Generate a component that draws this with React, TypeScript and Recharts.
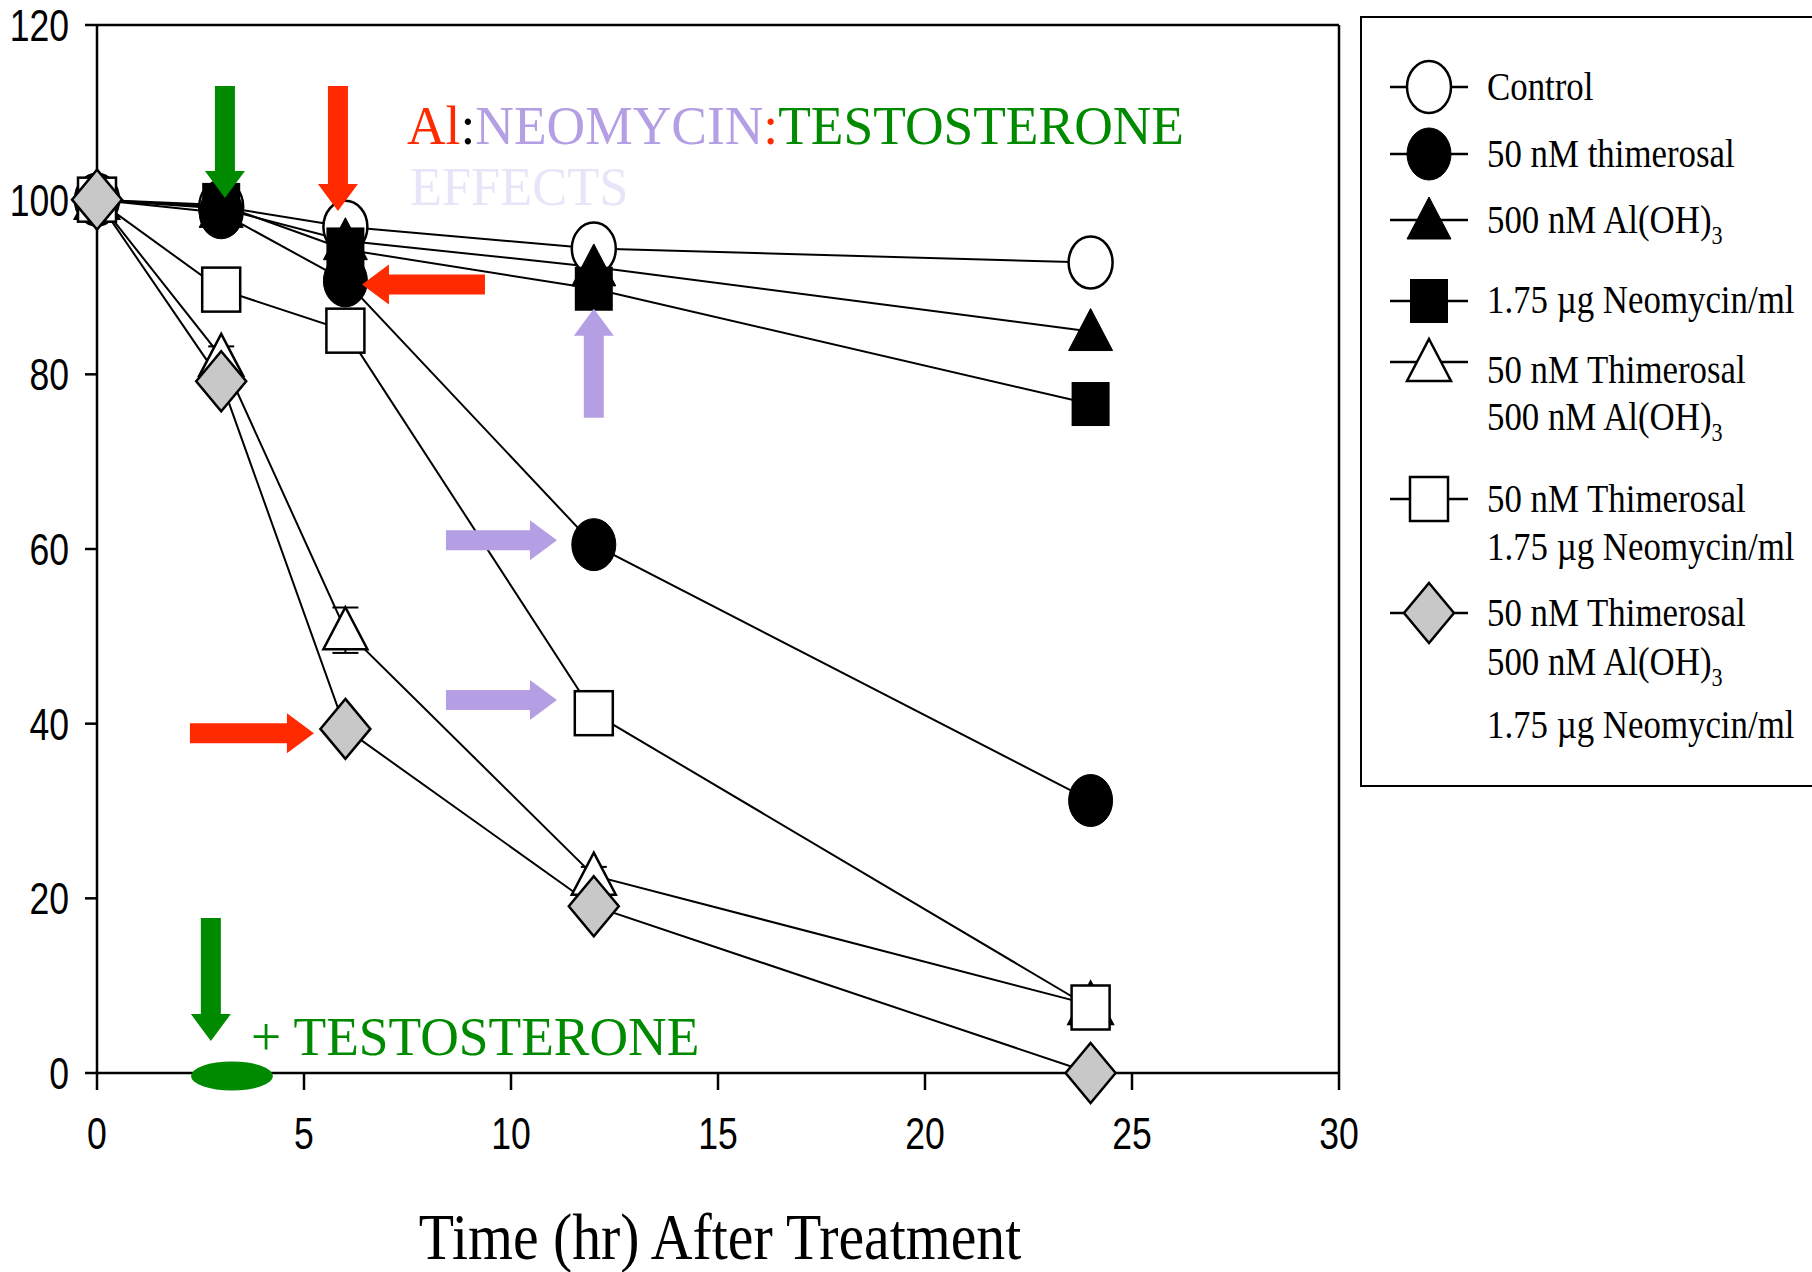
import React from "react";
import {
  ComposedChart,
  Customized,
  ErrorBar,
  Line,
  ReferenceDot,
  ReferenceLine,
  Scatter,
  XAxis,
  YAxis,
} from "recharts";

const SERIF = "'Liberation Serif', 'Times New Roman', serif";
const SANS = "'Liberation Sans', Arial, sans-serif";
const RED = "#ff2a00";
const LAVENDER = "#b49ee4";
const GREEN = "#008a00";

// hours after treatment, % viability
const hours = [0, 3, 6, 12, 24];
const control = [100, 99.2, 96.9, 94.4, 92.8];
const thimerosal = [100, 98.5, 90.7, 60.5, 31.2];
const aluminum = [100, 99.0, 95.3, 92.3, 84.9];
const neomycin = [100, 99.4, 94.3, 89.8, 76.6];
const thimAl = [100, 82.0, 50.7, 22.6, 7.8];
const thimAlErr = [0, 1.2, 2.6, 1.0, 1.0];
const thimNeo = [100, 89.7, 85.0, 41.2, 7.5];
const thimAlNeo = [100, 79.2, 39.4, 19.1, 0];

const xTicks = [0, 5, 10, 15, 20, 25, 30];
const yTicks = [0, 20, 40, 60, 80, 100, 120];

type Kind = "openCircle" | "circle" | "triangle" | "square" | "openTriangle" | "openSquare" | "diamond";

const seriesKeys = ["control", "thimerosal", "aluminum", "neomycin", "thimAl", "thimNeo", "thimAlNeo"];
const seriesKinds: Kind[] = ["openCircle", "circle", "triangle", "square", "openTriangle", "openSquare", "diamond"];
const legendLabels = [
  ["Control"],
  ["50 nM thimerosal"],
  ["500 nM Al(OH)_3"],
  ["1.75 µg Neomycin/ml"],
  ["50 nM Thimerosal", "500 nM Al(OH)_3"],
  ["50 nM Thimerosal", "1.75 µg Neomycin/ml"],
  ["50 nM Thimerosal", "500 nM Al(OH)_3", "1.75 µg Neomycin/ml"],
];

// annotation arrows, tip given in data units
const arrows = [
  { x: 3.09, y: 100.2, angle: 90, len: 112, color: GREEN },
  { x: 5.82, y: 98.7, angle: 90, len: 125, color: RED },
  { x: 6.4, y: 90.3, angle: 180, len: 123, color: RED },
  { x: 12.0, y: 87.5, angle: -90, len: 109, color: LAVENDER },
  { x: 11.11, y: 61.0, angle: 0, len: 111, color: LAVENDER },
  { x: 11.11, y: 42.7, angle: 0, len: 111, color: LAVENDER },
  { x: 5.24, y: 38.9, angle: 0, len: 124, color: RED },
  { x: 2.75, y: 3.66, angle: 90, len: 123, color: GREEN },
];

const rows = hours.map((h, i) => ({
  h,
  control: control[i],
  thimerosal: thimerosal[i],
  aluminum: aluminum[i],
  neomycin: neomycin[i],
  thimAl: thimAl[i],
  thimNeo: thimNeo[i],
  thimAlNeo: thimAlNeo[i],
  err: thimAlErr[i],
}));

function Marker({ kind, cx, cy }: { kind: Kind; cx: number; cy: number }) {
  const sw = 2.5;
  const tri = `${cx},${cy - 23} ${cx + 22},${cy + 19} ${cx - 22},${cy + 19}`;
  switch (kind) {
    case "openCircle":
      return <ellipse cx={cx} cy={cy} rx={22} ry={26} fill="#fff" stroke="#000" strokeWidth={sw} />;
    case "circle":
      return <ellipse cx={cx} cy={cy} rx={22} ry={26} fill="#000" stroke="#000" strokeWidth={1} />;
    case "triangle":
      return <polygon points={tri} fill="#000" stroke="#000" strokeWidth={1} />;
    case "openTriangle":
      return <polygon points={tri} fill="#fff" stroke="#000" strokeWidth={sw} />;
    case "square":
      return <rect x={cx - 19} y={cy - 22} width={38} height={44} fill="#000" />;
    case "openSquare":
      return <rect x={cx - 19} y={cy - 22} width={38} height={44} fill="#fff" stroke="#000" strokeWidth={sw} />;
    default:
      return (
        <polygon
          points={`${cx},${cy - 30} ${cx + 25},${cy} ${cx},${cy + 30} ${cx - 25},${cy}`}
          fill="#c8c8c8"
          stroke="#000"
          strokeWidth={sw}
        />
      );
  }
}

function Arrow({ cx, cy, angle, len, color }: { cx: number; cy: number; angle: number; len: number; color: string }) {
  const s = 10;
  const h = 20;
  const hl = 27;
  const pts = `0,0 ${-hl},${-h} ${-hl},${-s} ${-len},${-s} ${-len},${s} ${-hl},${s} ${-hl},${h}`;
  return <polygon points={pts} fill={color} transform={`translate(${cx},${cy}) rotate(${angle})`} />;
}

function Txt({ x, y, size, sx = 1, anchor = "start", fill = "#000", family = SERIF, children }: any) {
  return (
    <text
      transform={`translate(${x},${y}) scale(${sx},1)`}
      fontFamily={family}
      fontSize={size}
      fill={fill}
      textAnchor={anchor}
    >
      {children}
    </text>
  );
}

function LabelLine({ x, y, text }: { x: number; y: number; text: string }) {
  const [main, sub] = text.split("_");
  return (
    <Txt x={x} y={y} size={41} sx={0.85}>
      {main}
      {sub && (
        <tspan fontSize={26} dy={11}>
          {sub}
        </tspan>
      )}
    </Txt>
  );
}

function Overlay() {
  const symY = [87, 154, 220, 301, 362, 499, 613];
  const textY = [[100], [167], [233], [313], [383, 430], [512, 560], [626, 675, 738]];
  return (
    <g>
      <Txt x={407} y={144} size={54} sx={0.99}>
        <tspan fill={RED}>Al</tspan>
        <tspan fill="#000">:</tspan>
        <tspan fill={LAVENDER}>NEOMYCIN</tspan>
        <tspan fill={RED}>:</tspan>
        <tspan fill={GREEN}>TESTOSTERONE</tspan>
      </Txt>
      <Txt x={410} y={205} size={54} sx={0.97} fill="#e6e6f8">
        EFFECTS
      </Txt>
      <Txt x={251} y={1055} size={54} sx={0.99} fill={GREEN}>
        + TESTOSTERONE
      </Txt>
      <Txt x={720} y={1259} size={66} sx={0.875} anchor="middle">
        Time (hr) After Treatment
      </Txt>

      <rect x={1361} y={17} width={470} height={769} fill="#fff" stroke="#000" strokeWidth={2} />
      {seriesKinds.map((k, i) => (
        <g key={k}>
          <line x1={1390} x2={1468} y1={symY[i]} y2={symY[i]} stroke="#000" strokeWidth={2.5} />
          <Marker kind={k} cx={1429} cy={symY[i]} />
          {legendLabels[i].map((t, j) => (
            <LabelLine key={j} x={1487} y={textY[i][j]} text={t} />
          ))}
        </g>
      ))}
    </g>
  );
}

const YTick = (p: any) => (
  <Txt x={p.x + 2} y={p.y + 16} size={45} sx={0.79} anchor="end" family={SANS}>
    {p.payload.value}
  </Txt>
);

const XTick = (p: any) => (
  <Txt x={p.x} y={p.y + 59} size={45} sx={0.79} anchor="middle" family={SANS}>
    {p.payload.value}
  </Txt>
);

export default function App() {
  const axisStyle = { stroke: "#000", strokeWidth: 2.5 };
  return (
    <div style={{ position: "absolute", left: 0, top: 0, width: 1812, height: 1272, background: "#fff" }}>
      <ComposedChart width={1812} height={1272} data={rows} margin={{ top: 25, right: 473, bottom: 139, left: 0 }}>
        <XAxis
          dataKey="h"
          type="number"
          domain={[0, 30]}
          ticks={xTicks}
          height={60}
          tickSize={17}
          tickMargin={0}
          axisLine={axisStyle}
          tickLine={axisStyle}
          tick={XTick}
        />
        <YAxis
          type="number"
          domain={[0, 120]}
          ticks={yTicks}
          width={97}
          tickSize={12}
          tickMargin={18}
          axisLine={axisStyle}
          tickLine={axisStyle}
          tick={YTick}
        />
        <ReferenceLine y={120} stroke="#000" strokeWidth={2.5} />
        <ReferenceLine x={30} stroke="#000" strokeWidth={2.5} />
        {seriesKeys.map((k) => (
          <Line
            key={`l-${k}`}
            dataKey={k}
            type="linear"
            stroke="#000"
            strokeWidth={2}
            dot={false}
            activeDot={false}
            isAnimationActive={false}
          />
        ))}
        {seriesKeys.map((k, i) => (
          <Scatter
            key={`s-${k}`}
            dataKey={k}
            isAnimationActive={false}
            shape={(p: any) => <Marker kind={seriesKinds[i]} cx={p.cx} cy={p.cy} />}
          >
            {k === "thimAl" && <ErrorBar dataKey="err" direction="y" width={13} stroke="#000" strokeWidth={2} />}
          </Scatter>
        ))}
        {arrows.map((a, i) => (
          <ReferenceDot
            key={`a-${i}`}
            x={a.x}
            y={a.y}
            ifOverflow="visible"
            shape={(p: any) => <Arrow cx={p.cx} cy={p.cy} angle={a.angle} len={a.len} color={a.color} />}
          />
        ))}
        <ReferenceDot
          x={3.26}
          y={0}
          ifOverflow="visible"
          shape={(p: any) => <ellipse cx={p.cx} cy={p.cy + 3} rx={41} ry={14.5} fill={GREEN} />}
        />
        <Customized component={<Overlay />} />
      </ComposedChart>
    </div>
  );
}
